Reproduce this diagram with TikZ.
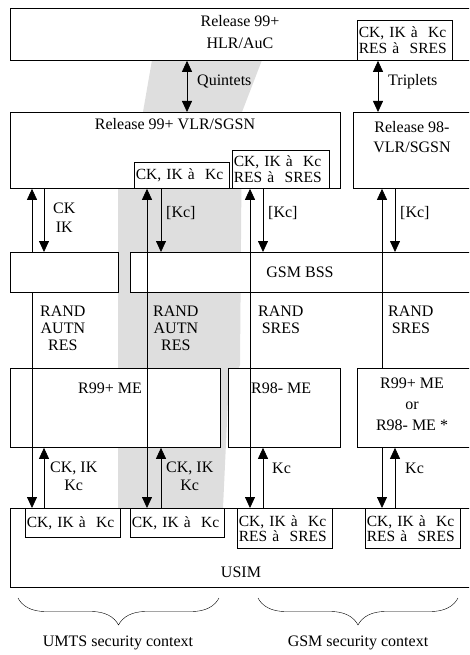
\documentclass[tikz,border=0pt]{standalone}
\usepackage{fontspec}
\setmainfont{Liberation Serif}
\usetikzlibrary{arrows.meta,decorations.pathreplacing}

\begin{document}
\begin{tikzpicture}[x=1pt,y=-1pt,
    >={Triangle[width=10pt,length=11pt]},
    every node/.style={font=\fontsize{16}{18}\selectfont},
    box/.style={draw,fill=white,line width=0.8pt,inner sep=0pt,anchor=north west},
    keybox/.style={box,align=left,text width=92pt,inner xsep=1.5pt,font=\fontsize{15.5}{16}\selectfont},
    lbl/.style={inner sep=0pt,align=center},
    link/.style={line width=0.8pt}]
    \useasboundingbox (0,0) rectangle (469,655);
    \clip (0,0) rectangle (469,655);

    % shaded UMTS band
    \fill[black!13] (152,60) -- (262,60) -- (242,112) -- (240,365) -- (228,400)
        -- (223,508) -- (118,508) -- (118,188) -- (143,112) -- cycle;

    % columns of the arrows
    \coordinate (q) at (187,0);
    \coordinate (t) at (378,0);
    \coordinate (c1) at (32,0);
    \coordinate (c2) at (44,0);
    \coordinate (c3) at (147,0);
    \coordinate (c4) at (161,0);
    \coordinate (c5) at (250,0);
    \coordinate (c6) at (263,0);
    \coordinate (c7) at (382,0);
    \coordinate (c8) at (395,0);

    % HLR/AuC
    \node[box,minimum width=470pt,minimum height=52pt] (hlr) at (10,8) {};
    \node[lbl,font=\fontsize{16}{22}\selectfont] (hlrt) at (240,32) {Release 99+\\HLR/AuC};
    \node[keybox,minimum height=40pt] (hlrk) at (357,20) {CK, IK à~~Kc\\RES à~~SRES};

    % VLR/SGSN
    \node[box,minimum width=330pt,minimum height=76pt] (vlr) at (10,112) {};
    \node[lbl] (vlrt) at (175,124) {Release 99+ VLR/SGSN};
    \node[keybox,minimum height=26pt] (vk1) at (134,162) {CK, IK à~~Kc};
    \node[keybox,minimum height=38pt,text width=94pt] (vk2) at (232,150) {CK, IK à~~Kc\\RES à~~SRES};
    \node[box,minimum width=130pt,minimum height=76pt] (vlr98) at (353,112) {};
    \node[lbl,font=\fontsize{16}{20}\selectfont] (vlr98t) at (412,137) {Release 98-\\VLR/SGSN};

    % BSS
    \node[box,minimum width=108pt,minimum height=40pt] (bssl) at (10,252) {};
    \node[box,minimum width=350pt,minimum height=40pt] (bss) at (130,252) {};
    \node[lbl] (bsst) at (300,272) {GSM BSS};

    % ME
    \node[box,minimum width=210pt,minimum height=79pt] (me1) at (10,368) {};
    \node[box,minimum width=112pt,minimum height=79pt] (me2) at (228,368) {};
    \node[box,minimum width=125pt,minimum height=79pt] (me3) at (357,368) {};
    \node[lbl,font=\fontsize{16}{21}\selectfont] (me3t) at (412,404) {R99+ ME\\or\\R98- ME *};

    % USIM
    \node[box,minimum width=470pt,minimum height=79pt] (usim) at (10,508) {};
    \node[lbl] (usimt) at (241,572) {USIM};
    \node[keybox,minimum height=29pt] (u1) at (25,508) {CK, IK à~~Kc};
    \node[keybox,minimum height=29pt,text width=91pt] (u2) at (130,508) {CK, IK à~~Kc};
    \node[keybox,minimum height=40pt,font=\fontsize{15.5}{15}\selectfont] (u3) at (237,508) {CK, IK à~~Kc\\RES à~~SRES};
    \node[keybox,minimum height=40pt,font=\fontsize{15.5}{15}\selectfont] (u4) at (365,508) {CK, IK à~~Kc\\RES à~~SRES};

    % HLR <-> VLR
    \draw[link,<->] (hlr.south -| q) -- (vlr.north -| q);
    \draw[link,<->] (hlrk.south -| t) -- (vlr98.north -| t);

    % VLR <-> USIM
    \draw[link,->] (bssl.north -| c1) -- (vlr.south -| c1);
    \draw[link,->] (bssl.south -| c1) -- (u1.north -| c1);
    \draw[link,->] (vlr.south -| c2) -- (bssl.north -| c2);
    \draw[link,->] (u1.north -| c2) -- (me1.south -| c2);

    \draw[link,<->] (vk1.south -| c3) -- (u2.north -| c3);
    \draw[link,->] (vk1.south -| c4) -- (bss.north -| c4);
    \draw[link,->] (u2.north -| c4) -- (me1.south -| c4);

    \draw[link,<->] (vk2.south -| c5) -- (u3.north -| c5);
    \draw[link,->] (vk2.south -| c6) -- (bss.north -| c6);
    \draw[link,->] (u3.north -| c6) -- (me2.south -| c6);

    \draw[link,->] (me3.north -| c7) -- (vlr98.south -| c7);
    \draw[link,->] (me3.south -| c7) -- (u4.north -| c7);
    \draw[link,->] (vlr98.south -| c8) -- (bss.north -| c8);
    \draw[link,->] (u4.north -| c8) -- (me3.south -| c8);

    % labels
    \node[lbl,anchor=west] (me1t) at (78,388) {R99+ ME};
    \node[lbl,anchor=west] (me2t) at (251,388) {R98- ME};
    \node[lbl,anchor=west] (quin) at (197,82) {Quintets};
    \node[lbl,anchor=west] (trip) at (388,82) {Triplets};
    \node[lbl,anchor=west,font=\fontsize{16}{19}\selectfont] (ckik) at (53,218) {CK\\IK};
    \node[lbl,anchor=west] (kc1) at (166,213) {[Kc]};
    \node[lbl,anchor=west] (kc2) at (268,213) {[Kc]};
    \node[lbl,anchor=west] (kc3) at (400,213) {[Kc]};
    \node[lbl,anchor=west,font=\fontsize{16}{17}\selectfont] (rnd1) at (40,328) {RAND\\AUTN\\RES};
    \node[lbl,anchor=west,font=\fontsize{16}{17}\selectfont] (rnd2) at (153,328) {RAND\\AUTN\\RES};
    \node[lbl,anchor=west,font=\fontsize{16}{17}\selectfont] (rnd3) at (258,320) {RAND\\SRES};
    \node[lbl,anchor=west,font=\fontsize{16}{17}\selectfont] (rnd4) at (388,320) {RAND\\SRES};
    \node[lbl,anchor=west] (ck1) at (50,476) {CK, IK\\Kc};
    \node[lbl,anchor=west] (ck2) at (166,476) {CK, IK\\Kc};
    \node[lbl,anchor=west] (kc4) at (272,468) {Kc};
    \node[lbl,anchor=west] (kc5) at (405,468) {Kc};

    % security contexts
    \draw[decorate,decoration={brace,mirror,amplitude=27pt}] (18,598) -- (219,598);
    \draw[decorate,decoration={brace,mirror,amplitude=27pt}] (258,598) -- (458,598);
    \node[lbl] (umts) at (118,643) {UMTS security context};
    \node[lbl] (gsm) at (358,643) {GSM security context};
\end{tikzpicture}
\end{document}
